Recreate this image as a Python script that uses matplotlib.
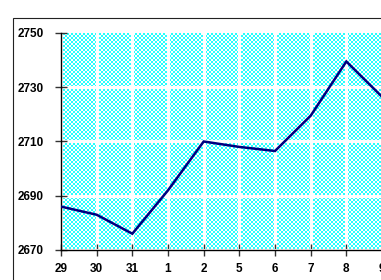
import numpy as np
import matplotlib.pyplot as plt
from matplotlib.patches import Rectangle

days = ['29', '30', '31', '1', '2', '5', '6', '7', '8', '9']
values = [2686, 2683, 2676, 2692, 2710, 2708, 2706.5, 2719.5, 2739.5, 2726.5]
y_ticks = [2670, 2690, 2710, 2730, 2750]

W, H = 381, 280
fig = plt.figure(figsize=(W / 100, H / 100), dpi=100)

# plot area in pixels
left, right, top, bottom = 61, 382, 33, 250
ax = fig.add_axes([left / W, 1 - bottom / H, (right - left) / W, (bottom - top) / H])
ax.patch.set_visible(False)

# checkered cyan background
pw, ph = right - left, bottom - top
cell = 2
yy, xx = np.mgrid[0:ph, 0:pw]
chk = ((xx // cell + yy // cell) % 2).astype(bool)
img = np.ones((ph, pw, 3))
img[chk] = [0.15, 1.0, 1.0]
fig.figimage(img, xo=left, yo=H - bottom, zorder=-1, origin='upper')

# outer frame
fig.add_artist(Rectangle((12.5 / W, -0.2), 1.2, 1.2 - 17.5 / H,
                         transform=fig.transFigure, fill=False,
                         edgecolor='#222222', linewidth=0.8, zorder=-2))

x = np.arange(len(days))
ax.plot(x, values, color='#000080', linewidth=1.8, solid_joinstyle='miter', zorder=3)

ax.set_xlim(0, 9)
ax.set_ylim(2670, 2750)
ax.set_xticks(x)
ax.set_xticklabels(days)
ax.set_yticks(y_ticks)
ax.grid(True, color='white', linewidth=2.2)
ax.yaxis.get_gridlines()[-1].set_visible(False)
ax.set_axisbelow(True)

for s in ['top', 'right']:
    ax.spines[s].set_visible(False)
for s in ['left', 'bottom']:
    ax.spines[s].set_color('black')
    ax.spines[s].set_linewidth(1.0)

ax.tick_params(direction='inout', length=9, width=1, colors='#333333')
ax.tick_params(axis='y', pad=8)
ax.tick_params(axis='x', pad=5)
for lab in ax.get_xticklabels() + ax.get_yticklabels():
    lab.set_fontfamily('Liberation Sans')
    lab.set_fontweight('bold')
    lab.set_fontsize(8.5)
    lab.set_color('black')

fig.savefig('out.png', dpi=100)
